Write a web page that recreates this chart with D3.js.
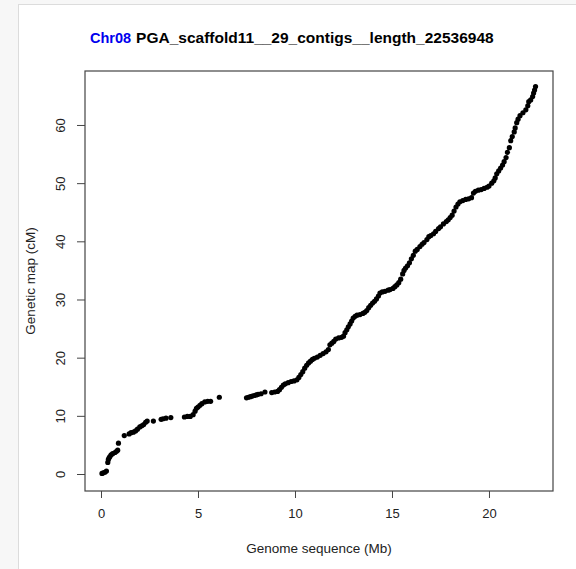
<!DOCTYPE html>
<html><head><meta charset="utf-8">
<script src="https://cdn.jsdelivr.net/npm/d3@7"></script>
<style>html,body{margin:0;padding:0;background:#f7f7f7;}svg{display:block;font-family:"Liberation Sans",Arial,sans-serif;}</style>
</head><body>
<svg id="chart" width="576" height="569"></svg>
<script>
const titleChr = "Chr08";
const titleRest = "PGA_scaffold11__29_contigs__length_22536948";
const xLabel = "Genome sequence (Mb)";
const yLabel = "Genetic map (cM)";
const xTicks = [0, 5, 10, 15, 20];
const yTicks = [0, 10, 20, 30, 40, 50, 60];
// physical position (Mb)
const posMb = [
0.05,0.12,0.2,0.28,0.35,0.38,0.42,0.46,0.52,0.6,0.72,0.8,0.86,0.9,1.2,1.45,1.55,1.67,1.78,1.88,2.0,2.1,2.2,2.3,2.38,2.7,3.1,3.2,3.35,3.6,4.3,4.45,4.6,4.75,4.85,4.92,5.0,5.1,5.2,5.35,5.5,5.65,6.1,
7.5,7.6,7.7,7.8,7.9,8.0,8.1,8.25,8.45,8.8,8.95,9.1,9.2,9.3,9.4,9.5,9.65,9.8,9.95,10.1,10.2,10.3,10.4,10.5,10.6,10.7,10.8,10.9,11.0,11.15,11.3,11.45,11.6,11.72,11.8,11.9,12.0,12.1,12.25,12.4,12.5,12.58,12.67,12.75,12.84,12.92,13.0,13.1,13.2,13.35,13.5,13.6,13.7,13.8,13.9,14.0,14.1,14.2,14.3,14.38,14.5,14.64,14.8,14.9,15.05,15.15,15.25,15.35,15.45,15.55,15.62,15.7,15.8,15.9,16.0,16.1,16.2,16.3,16.44,16.55,16.65,16.8,16.9,17.0,17.14,17.25,17.4,17.5,17.65,17.8,17.9,18.0,18.1,18.2,18.3,18.4,18.5,18.65,18.8,18.95,19.1,19.2,19.3,19.45,19.6,19.75,19.9,20.0,20.14,20.25,20.32,20.4,20.5,20.6,20.7,20.78,20.88,20.95,21.05,21.12,21.2,21.3,21.35,21.43,21.5,21.6,21.75,21.9,22.0,22.05,22.15,22.25,22.3,22.35,22.4
];
// genetic position (cM)
const mapCM = [
0.1,0.2,0.3,0.5,2.0,2.5,2.8,3.0,3.3,3.5,3.7,3.9,4.1,5.3,6.6,6.9,7.1,7.2,7.4,7.7,8.1,8.3,8.5,8.9,9.1,9.1,9.4,9.5,9.6,9.7,9.8,9.9,9.9,10.2,10.8,11.3,11.5,11.8,12.1,12.4,12.5,12.5,13.2,
13.1,13.2,13.3,13.4,13.5,13.6,13.7,13.8,14.1,14.0,14.1,14.2,14.5,14.9,15.3,15.5,15.7,15.9,16.0,16.2,16.6,17.1,17.6,18.2,18.7,19.1,19.4,19.7,19.9,20.1,20.4,20.7,21.0,21.4,22.2,22.5,22.8,23.2,23.4,23.5,23.7,24.3,24.8,25.3,25.8,26.3,26.8,27.1,27.3,27.4,27.6,27.8,28.1,28.6,29.0,29.4,29.7,30.1,30.6,31.1,31.3,31.4,31.6,31.7,31.9,32.2,32.5,32.9,33.5,34.4,35.0,35.4,35.8,36.3,37.0,37.6,38.3,38.6,39.1,39.5,39.8,40.3,40.8,41.0,41.3,41.7,42.2,42.5,43.0,43.4,43.7,44.1,44.5,45.2,45.9,46.4,46.8,47.0,47.2,47.3,47.5,48.3,48.6,48.8,48.9,49.1,49.3,49.5,50.0,50.4,50.9,51.6,52.1,52.6,53.1,53.7,54.4,55.3,56.1,57.3,58.0,58.8,59.5,60.4,61.0,61.6,62.1,62.6,63.3,64.0,64.3,64.9,65.5,66.0,66.6
];
const points = posMb.map((x, i) => ({x, y: mapCM[i]}));

const svg = d3.select("#chart");
// panel background
svg.append("rect").attr("x", 18.5).attr("y", 4.5).attr("width", 570).attr("height", 580)
  .attr("fill", "#fff").attr("stroke", "#dcdcdc");

const L = 85, R = 553, T = 71, B = 491;
const x = d3.scaleLinear().domain([-0.825, 23.3]).range([L, R]);
const y = d3.scaleLinear().domain([-2.92, 69.28]).range([B, T]);

const axisColor = "#444", textColor = "#222";

// points
svg.append("g").selectAll("circle").data(points).join("circle")
  .attr("cx", d => x(d.x)).attr("cy", d => y(d.y)).attr("r", 2.6).attr("fill", "#000");

// frame
svg.append("rect").attr("x", L).attr("y", T).attr("width", R - L).attr("height", B - T)
  .attr("fill", "none").attr("stroke", axisColor).attr("stroke-width", 1.2);

// x axis
const xa = svg.append("g").attr("transform", `translate(0,${B})`)
  .call(d3.axisBottom(x).tickValues(xTicks).tickSize(7).tickPadding(11).tickFormat(d3.format("d")));
xa.select(".domain").remove();
xa.selectAll("line").attr("stroke", axisColor);
xa.selectAll("text").attr("font-size", 13).attr("fill", textColor).attr("font-family", "Liberation Sans, Arial, sans-serif");

// y axis
const ya = svg.append("g").attr("transform", `translate(${L},0)`)
  .call(d3.axisLeft(y).tickValues(yTicks).tickSize(8).tickFormat(d3.format("d")));
ya.select(".domain").remove();
ya.selectAll("line").attr("stroke", axisColor);
ya.selectAll("text").remove();
ya.selectAll(".tick").append("text")
  .attr("transform", "translate(-25,0) rotate(-90)")
  .attr("text-anchor", "middle").attr("dy", "0.35em")
  .attr("font-size", 13).attr("fill", textColor)
  .attr("font-family", "Liberation Sans, Arial, sans-serif")
  .text(d => d);

// axis labels
svg.append("text").attr("x", (L + R) / 2).attr("y", 553).attr("text-anchor", "middle")
  .attr("font-size", 13.5).attr("fill", textColor).text(xLabel);
svg.append("text").attr("transform", `translate(35,${(T + B) / 2}) rotate(-90)`).attr("text-anchor", "middle")
  .attr("font-size", 13.5).attr("fill", textColor).text(yLabel);

// title
const title = svg.append("text").attr("x", 90).attr("y", 43).attr("font-weight", "bold");
title.append("tspan").attr("fill", "#0000ee").attr("font-size", 14.5).text(titleChr);
title.append("tspan").attr("fill", "#000").attr("font-size", 15.5).attr("dx", 5).text(titleRest);
</script>
</body></html>
